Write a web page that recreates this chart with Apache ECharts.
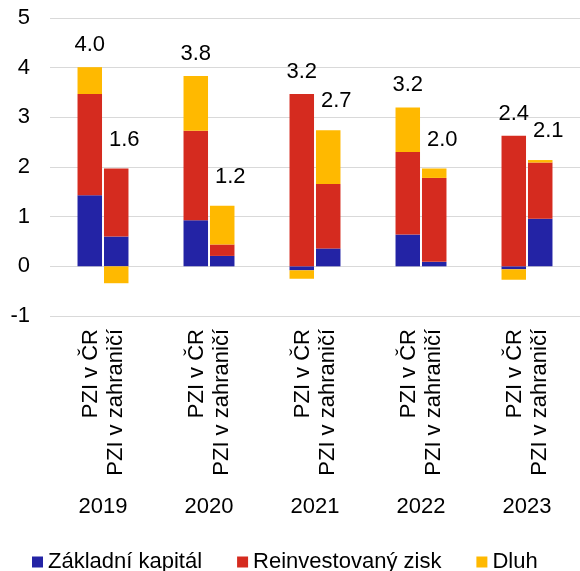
<!DOCTYPE html>
<html>
<head>
<meta charset="utf-8">
<script src="https://cdn.jsdelivr.net/npm/echarts@6/dist/echarts.min.js"></script>
<style>
html,body{margin:0;padding:0;background:#fff;}
#chart{width:580px;height:571px;}
</style>
</head>
<body>
<div id="chart"></div>
<script>
// ---- data ----
var years = ['2019', '2020', '2021', '2022', '2023'];
var barLabels = ['PZI v ČR', 'PZI v zahraničí'];
var seriesNames = ['Základní kapitál', 'Reinvestovaný zisk', 'Dluh'];
var yTicks = [-1, 0, 1, 2, 3, 4, 5];

// PZI v ČR
var crZakladni = [1.43, 0.93, -0.08, 0.64, -0.06];
var crReinvest = [2.04, 1.80, 3.47, 1.66, 2.63];
var crDluh     = [0.54, 1.10, -0.17, 0.90, -0.21];
// PZI v zahraničí
var zaZakladni = [0.60, 0.21, 0.36, 0.09, 0.96];
var zaReinvest = [1.37, 0.23, 1.30, 1.69, 1.13];
var zaDluh     = [-0.34, 0.78, 1.08, 0.19, 0.05];

// ---- styling ----
var FONT = "'Liberation Sans', Arial, sans-serif";
var FS = 22;
var colors = ['#2323A5', '#D52B1F', '#FFB900'];

function buildStack(stackId, parts, labelStyle) {
  var n = years.length;
  var totals = [], topIdx = [];
  for (var i = 0; i < n; i++) {
    var t = 0, top = -1;
    for (var k = 0; k < parts.length; k++) {
      t += parts[k][i];
      if (parts[k][i] > 0) top = k;
    }
    totals.push(t);
    topIdx.push(top);
  }
  return parts.map(function (arr, k) {
    return {
      name: seriesNames[k],
      type: 'bar',
      stack: stackId,
      barWidth: 24.5,
      barGap: '8%',
      itemStyle: { color: colors[k] },
      emphasis: { disabled: true },
      data: arr.map(function (v, i) {
        var d = { value: v };
        if (topIdx[i] === k) {
          d.label = Object.assign({
            show: true,
            position: 'top',
            fontSize: FS,
            fontFamily: FONT,
            color: '#000',
            formatter: totals[i].toFixed(1)
          }, labelStyle);
        }
        return d;
      })
    };
  });
}

var series = []
  .concat(buildStack('cr', [crZakladni, crReinvest, crDluh], { distance: 11 }))
  .concat(buildStack('za', [zaZakladni, zaReinvest, zaDluh], { distance: 18, offset: [8, 0] }));

var chart = echarts.init(document.getElementById('chart'), null, { renderer: 'canvas' });
chart.setOption({
  animation: false,
  textStyle: { fontFamily: FONT },
  grid: { left: 50, top: 18, width: 532, height: 298, containLabel: false },
  legend: {
    data: seriesNames,
    left: 32,
    top: 551,
    padding: 0,
    icon: 'rect',
    itemWidth: 11,
    itemHeight: 11,
    itemGap: 35,
    textStyle: { fontSize: FS, color: '#000', fontFamily: FONT }
  },
  xAxis: [
    {
      type: 'category',
      data: years,
      position: 'bottom',
      axisLine: { show: false },
      axisTick: { show: false },
      axisLabel: {
        rotate: 90,
        margin: 13,
        fontSize: FS,
        lineHeight: 25,
        color: '#000',
        fontFamily: FONT,
        formatter: function () { return barLabels.join('\n'); }
      }
    },
    {
      type: 'category',
      data: years,
      position: 'bottom',
      axisLine: { show: false },
      axisTick: { show: false },
      axisLabel: {
        margin: 180,
        fontSize: FS,
        color: '#000',
        fontFamily: FONT
      }
    }
  ],
  yAxis: {
    type: 'value',
    min: yTicks[0],
    max: yTicks[yTicks.length - 1],
    interval: 1,
    axisLine: { show: false },
    axisTick: { show: false },
    axisLabel: { fontSize: FS, color: '#000', margin: 20, fontFamily: FONT },
    splitLine: { lineStyle: { color: '#D9D9D9', width: 1 } }
  },
  series: series
});
</script>
</body>
</html>
